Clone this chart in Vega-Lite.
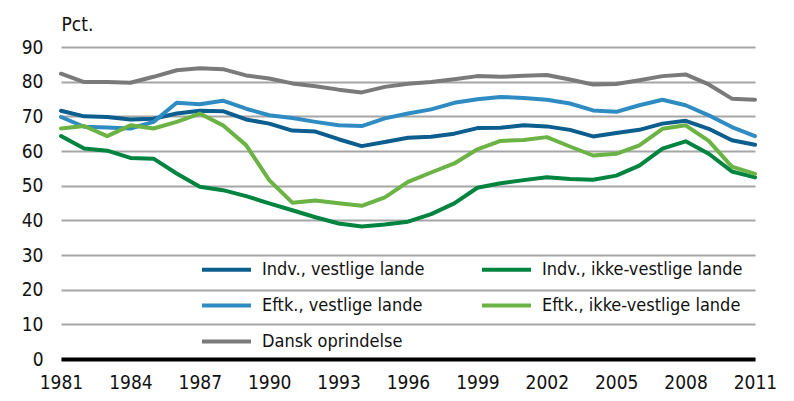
{
  "$schema": "https://vega.github.io/schema/vega-lite/v6.json",
  "autosize": "none",
  "width": 694,
  "height": 312,
  "padding": {"left": 61, "top": 47, "right": 39, "bottom": 42},
  "background": "white",
  "config": {
    "view": {"stroke": null},
    "font": "DejaVu Sans Condensed, Liberation Sans, sans-serif"
  },
  "data": {
    "values": [
      {"year":1981,"series":"Indv., vestlige lande","value":71.6},
      {"year":1982,"series":"Indv., vestlige lande","value":70.0},
      {"year":1983,"series":"Indv., vestlige lande","value":69.8},
      {"year":1984,"series":"Indv., vestlige lande","value":69.1},
      {"year":1985,"series":"Indv., vestlige lande","value":69.3},
      {"year":1986,"series":"Indv., vestlige lande","value":70.8},
      {"year":1987,"series":"Indv., vestlige lande","value":71.6},
      {"year":1988,"series":"Indv., vestlige lande","value":71.5},
      {"year":1989,"series":"Indv., vestlige lande","value":69.1},
      {"year":1990,"series":"Indv., vestlige lande","value":67.9},
      {"year":1991,"series":"Indv., vestlige lande","value":65.9},
      {"year":1992,"series":"Indv., vestlige lande","value":65.6},
      {"year":1993,"series":"Indv., vestlige lande","value":63.4},
      {"year":1994,"series":"Indv., vestlige lande","value":61.4},
      {"year":1995,"series":"Indv., vestlige lande","value":62.6},
      {"year":1996,"series":"Indv., vestlige lande","value":63.8},
      {"year":1997,"series":"Indv., vestlige lande","value":64.1},
      {"year":1998,"series":"Indv., vestlige lande","value":65.0},
      {"year":1999,"series":"Indv., vestlige lande","value":66.6},
      {"year":2000,"series":"Indv., vestlige lande","value":66.7},
      {"year":2001,"series":"Indv., vestlige lande","value":67.4},
      {"year":2002,"series":"Indv., vestlige lande","value":67.1},
      {"year":2003,"series":"Indv., vestlige lande","value":66.1},
      {"year":2004,"series":"Indv., vestlige lande","value":64.2},
      {"year":2005,"series":"Indv., vestlige lande","value":65.2},
      {"year":2006,"series":"Indv., vestlige lande","value":66.1},
      {"year":2007,"series":"Indv., vestlige lande","value":67.9},
      {"year":2008,"series":"Indv., vestlige lande","value":68.7},
      {"year":2009,"series":"Indv., vestlige lande","value":66.4},
      {"year":2010,"series":"Indv., vestlige lande","value":63.1},
      {"year":2011,"series":"Indv., vestlige lande","value":61.8},
      {"year":1981,"series":"Indv., ikke-vestlige lande","value":64.3},
      {"year":1982,"series":"Indv., ikke-vestlige lande","value":60.7},
      {"year":1983,"series":"Indv., ikke-vestlige lande","value":60.1},
      {"year":1984,"series":"Indv., ikke-vestlige lande","value":58.0},
      {"year":1985,"series":"Indv., ikke-vestlige lande","value":57.8},
      {"year":1986,"series":"Indv., ikke-vestlige lande","value":53.5},
      {"year":1987,"series":"Indv., ikke-vestlige lande","value":49.7},
      {"year":1988,"series":"Indv., ikke-vestlige lande","value":48.7},
      {"year":1989,"series":"Indv., ikke-vestlige lande","value":47.0},
      {"year":1990,"series":"Indv., ikke-vestlige lande","value":44.9},
      {"year":1991,"series":"Indv., ikke-vestlige lande","value":42.9},
      {"year":1992,"series":"Indv., ikke-vestlige lande","value":40.9},
      {"year":1993,"series":"Indv., ikke-vestlige lande","value":39.1},
      {"year":1994,"series":"Indv., ikke-vestlige lande","value":38.2},
      {"year":1995,"series":"Indv., ikke-vestlige lande","value":38.8},
      {"year":1996,"series":"Indv., ikke-vestlige lande","value":39.6},
      {"year":1997,"series":"Indv., ikke-vestlige lande","value":41.8},
      {"year":1998,"series":"Indv., ikke-vestlige lande","value":44.9},
      {"year":1999,"series":"Indv., ikke-vestlige lande","value":49.4},
      {"year":2000,"series":"Indv., ikke-vestlige lande","value":50.7},
      {"year":2001,"series":"Indv., ikke-vestlige lande","value":51.6},
      {"year":2002,"series":"Indv., ikke-vestlige lande","value":52.4},
      {"year":2003,"series":"Indv., ikke-vestlige lande","value":51.9},
      {"year":2004,"series":"Indv., ikke-vestlige lande","value":51.7},
      {"year":2005,"series":"Indv., ikke-vestlige lande","value":52.9},
      {"year":2006,"series":"Indv., ikke-vestlige lande","value":55.8},
      {"year":2007,"series":"Indv., ikke-vestlige lande","value":60.7},
      {"year":2008,"series":"Indv., ikke-vestlige lande","value":62.8},
      {"year":2009,"series":"Indv., ikke-vestlige lande","value":59.2},
      {"year":2010,"series":"Indv., ikke-vestlige lande","value":54.1},
      {"year":2011,"series":"Indv., ikke-vestlige lande","value":52.4},
      {"year":1981,"series":"Eftk., vestlige lande","value":69.8},
      {"year":1982,"series":"Eftk., vestlige lande","value":67.0},
      {"year":1983,"series":"Eftk., vestlige lande","value":66.8},
      {"year":1984,"series":"Eftk., vestlige lande","value":66.5},
      {"year":1985,"series":"Eftk., vestlige lande","value":68.4},
      {"year":1986,"series":"Eftk., vestlige lande","value":73.9},
      {"year":1987,"series":"Eftk., vestlige lande","value":73.5},
      {"year":1988,"series":"Eftk., vestlige lande","value":74.5},
      {"year":1989,"series":"Eftk., vestlige lande","value":72.2},
      {"year":1990,"series":"Eftk., vestlige lande","value":70.3},
      {"year":1991,"series":"Eftk., vestlige lande","value":69.5},
      {"year":1992,"series":"Eftk., vestlige lande","value":68.4},
      {"year":1993,"series":"Eftk., vestlige lande","value":67.4},
      {"year":1994,"series":"Eftk., vestlige lande","value":67.2},
      {"year":1995,"series":"Eftk., vestlige lande","value":69.4},
      {"year":1996,"series":"Eftk., vestlige lande","value":70.8},
      {"year":1997,"series":"Eftk., vestlige lande","value":72.0},
      {"year":1998,"series":"Eftk., vestlige lande","value":73.9},
      {"year":1999,"series":"Eftk., vestlige lande","value":74.9},
      {"year":2000,"series":"Eftk., vestlige lande","value":75.6},
      {"year":2001,"series":"Eftk., vestlige lande","value":75.3},
      {"year":2002,"series":"Eftk., vestlige lande","value":74.8},
      {"year":2003,"series":"Eftk., vestlige lande","value":73.7},
      {"year":2004,"series":"Eftk., vestlige lande","value":71.7},
      {"year":2005,"series":"Eftk., vestlige lande","value":71.3},
      {"year":2006,"series":"Eftk., vestlige lande","value":73.2},
      {"year":2007,"series":"Eftk., vestlige lande","value":74.8},
      {"year":2008,"series":"Eftk., vestlige lande","value":73.2},
      {"year":2009,"series":"Eftk., vestlige lande","value":70.3},
      {"year":2010,"series":"Eftk., vestlige lande","value":66.9},
      {"year":2011,"series":"Eftk., vestlige lande","value":64.3},
      {"year":1981,"series":"Eftk., ikke-vestlige lande","value":66.5},
      {"year":1982,"series":"Eftk., ikke-vestlige lande","value":67.2},
      {"year":1983,"series":"Eftk., ikke-vestlige lande","value":64.3},
      {"year":1984,"series":"Eftk., ikke-vestlige lande","value":67.4},
      {"year":1985,"series":"Eftk., ikke-vestlige lande","value":66.5},
      {"year":1986,"series":"Eftk., ikke-vestlige lande","value":68.4},
      {"year":1987,"series":"Eftk., ikke-vestlige lande","value":70.8},
      {"year":1988,"series":"Eftk., ikke-vestlige lande","value":67.4},
      {"year":1989,"series":"Eftk., ikke-vestlige lande","value":61.7},
      {"year":1990,"series":"Eftk., ikke-vestlige lande","value":51.6},
      {"year":1991,"series":"Eftk., ikke-vestlige lande","value":45.1},
      {"year":1992,"series":"Eftk., ikke-vestlige lande","value":45.7},
      {"year":1993,"series":"Eftk., ikke-vestlige lande","value":44.9},
      {"year":1994,"series":"Eftk., ikke-vestlige lande","value":44.2},
      {"year":1995,"series":"Eftk., ikke-vestlige lande","value":46.6},
      {"year":1996,"series":"Eftk., ikke-vestlige lande","value":51.1},
      {"year":1997,"series":"Eftk., ikke-vestlige lande","value":53.8},
      {"year":1998,"series":"Eftk., ikke-vestlige lande","value":56.4},
      {"year":1999,"series":"Eftk., ikke-vestlige lande","value":60.5},
      {"year":2000,"series":"Eftk., ikke-vestlige lande","value":62.9},
      {"year":2001,"series":"Eftk., ikke-vestlige lande","value":63.2},
      {"year":2002,"series":"Eftk., ikke-vestlige lande","value":64.0},
      {"year":2003,"series":"Eftk., ikke-vestlige lande","value":61.3},
      {"year":2004,"series":"Eftk., ikke-vestlige lande","value":58.7},
      {"year":2005,"series":"Eftk., ikke-vestlige lande","value":59.2},
      {"year":2006,"series":"Eftk., ikke-vestlige lande","value":61.6},
      {"year":2007,"series":"Eftk., ikke-vestlige lande","value":66.4},
      {"year":2008,"series":"Eftk., ikke-vestlige lande","value":67.4},
      {"year":2009,"series":"Eftk., ikke-vestlige lande","value":62.9},
      {"year":2010,"series":"Eftk., ikke-vestlige lande","value":55.5},
      {"year":2011,"series":"Eftk., ikke-vestlige lande","value":53.4},
      {"year":1981,"series":"Dansk oprindelse","value":82.3},
      {"year":1982,"series":"Dansk oprindelse","value":79.9},
      {"year":1983,"series":"Dansk oprindelse","value":79.9},
      {"year":1984,"series":"Dansk oprindelse","value":79.7},
      {"year":1985,"series":"Dansk oprindelse","value":81.4},
      {"year":1986,"series":"Dansk oprindelse","value":83.3},
      {"year":1987,"series":"Dansk oprindelse","value":83.9},
      {"year":1988,"series":"Dansk oprindelse","value":83.6},
      {"year":1989,"series":"Dansk oprindelse","value":81.8},
      {"year":1990,"series":"Dansk oprindelse","value":80.9},
      {"year":1991,"series":"Dansk oprindelse","value":79.5},
      {"year":1992,"series":"Dansk oprindelse","value":78.7},
      {"year":1993,"series":"Dansk oprindelse","value":77.7},
      {"year":1994,"series":"Dansk oprindelse","value":76.9},
      {"year":1995,"series":"Dansk oprindelse","value":78.5},
      {"year":1996,"series":"Dansk oprindelse","value":79.4},
      {"year":1997,"series":"Dansk oprindelse","value":79.9},
      {"year":1998,"series":"Dansk oprindelse","value":80.7},
      {"year":1999,"series":"Dansk oprindelse","value":81.6},
      {"year":2000,"series":"Dansk oprindelse","value":81.4},
      {"year":2001,"series":"Dansk oprindelse","value":81.7},
      {"year":2002,"series":"Dansk oprindelse","value":81.9},
      {"year":2003,"series":"Dansk oprindelse","value":80.6},
      {"year":2004,"series":"Dansk oprindelse","value":79.2},
      {"year":2005,"series":"Dansk oprindelse","value":79.3},
      {"year":2006,"series":"Dansk oprindelse","value":80.4},
      {"year":2007,"series":"Dansk oprindelse","value":81.6},
      {"year":2008,"series":"Dansk oprindelse","value":82.1},
      {"year":2009,"series":"Dansk oprindelse","value":79.2},
      {"year":2010,"series":"Dansk oprindelse","value":75.1},
      {"year":2011,"series":"Dansk oprindelse","value":74.8}
    ]
  },
  "mark": {"type": "line", "strokeWidth": 4, "strokeJoin": "round", "strokeCap": "round"},
  "encoding": {
    "x": {
      "field": "year", "type": "quantitative",
      "scale": {"domain": [1981, 2011], "nice": false, "zero": false},
      "axis": {
        "title": null, "values": [1981,1984,1987,1990,1993,1996,1999,2002,2005,2008,2011],
        "format": "d", "grid": false, "ticks": false, "labelFlush": false,
        "domainColor": "#000000", "domainWidth": 4, "labelFontSize": 19, "labelColor": "#111111",
        "labelPadding": 14
      }
    },
    "y": {
      "field": "value", "type": "quantitative",
      "scale": {"domain": [0, 90], "nice": false},
      "axis": {
        "title": "Pct.", "titleAngle": 0, "titleX": 0, "titleY": -17, "titleAlign": "left",
        "titleBaseline": "alphabetic", "titleFontSize": 19, "titleFontWeight": "normal",
        "titleColor": "#111111",
        "values": [0,10,20,30,40,50,60,70,80,90], "grid": true, "gridColor": "#a6a6a6", "gridWidth": 2,
        "domain": false, "ticks": false, "labelPadding": 18, "labelFontSize": 19,
        "labelColor": "#111111"
      }
    },
    "color": {
      "field": "series", "type": "nominal",
      "sort": ["Indv., vestlige lande", "Eftk., vestlige lande", "Dansk oprindelse", "Indv., ikke-vestlige lande", "Eftk., ikke-vestlige lande"],
      "scale": {
        "domain": ["Indv., vestlige lande", "Eftk., vestlige lande", "Dansk oprindelse", "Indv., ikke-vestlige lande", "Eftk., ikke-vestlige lande"],
        "range": ["#0b5e8e", "#2f8cc2", "#7a7a7a", "#00843f", "#6ab344"]
      },
      "legend": {
        "title": null, "orient": "none", "legendX": 139, "legendY": 196, "columns": 2,
        "symbolType": "stroke", "symbolSize": 2400, "symbolStrokeWidth": 4,
        "labelFontSize": 18, "labelColor": "#111111",
        "labelOffset": 9, "columnPadding": 49, "rowPadding": 0, "labelLimit": 300, "padding": 0
      }
    }
  }
}
